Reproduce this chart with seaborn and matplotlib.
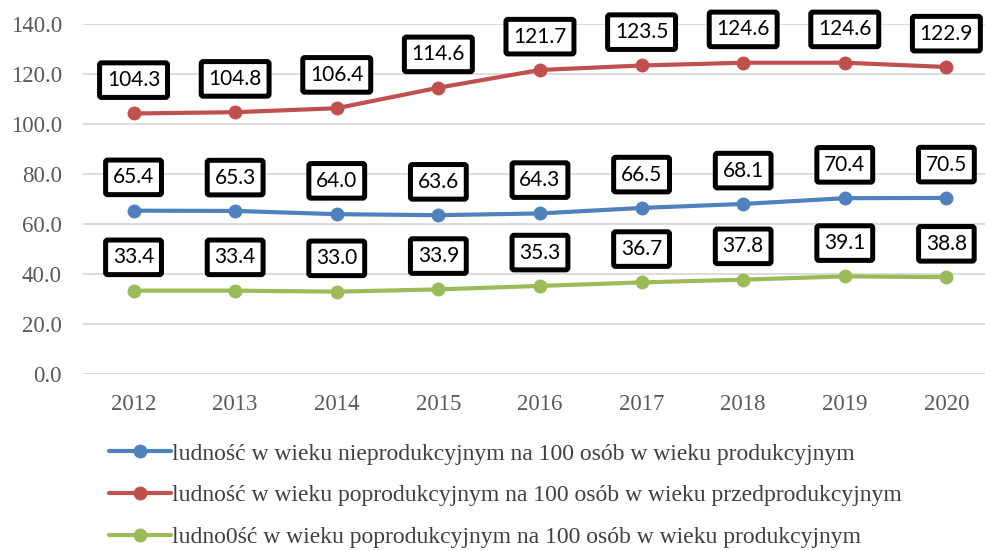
import matplotlib
matplotlib.use("Agg")
import matplotlib.pyplot as plt
import pandas as pd
import seaborn as sns

years = ["2012", "2013", "2014", "2015", "2016", "2017", "2018", "2019", "2020"]
nieprodukcyjny = [65.4, 65.3, 64.0, 63.6, 64.3, 66.5, 68.1, 70.4, 70.5]
poprodukcyjny_przed = [104.3, 104.8, 106.4, 114.6, 121.7, 123.5, 124.6, 124.6, 122.9]
poprodukcyjny_prod = [33.4, 33.4, 33.0, 33.9, 35.3, 36.7, 37.8, 39.1, 38.8]
series_names = [
    "ludność w wieku nieprodukcyjnym na 100 osób w wieku produkcyjnym",
    "ludność w wieku poprodukcyjnym na 100 osób w wieku przedprodukcyjnym",
    "ludno0ść w wieku poprodukcyjnym na 100 osób w wieku produkcyjnym",
]
colors = ["#4F81BD", "#C0504D", "#9BBB59"]

sns.set_theme(style="white")
plt.rcParams["font.family"] = ["Liberation Serif", "DejaVu Serif"]

df = pd.DataFrame({
    "rok": years * 3,
    "wartosc": nieprodukcyjny + poprodukcyjny_przed + poprodukcyjny_prod,
    "seria": [series_names[0]] * 9 + [series_names[1]] * 9 + [series_names[2]] * 9,
})

fig = plt.figure(figsize=(9.85, 5.51), dpi=100)
ax = fig.add_axes([0.084, 0.321, 0.916, 0.635])

sns.lineplot(data=df, x="rok", y="wartosc", hue="seria", palette=colors,
             marker="o", markersize=10, markeredgewidth=0, linewidth=3,
             sort=False, ax=ax)

# etykiety wartości w czarnych ramkach nad punktami
for vals in [nieprodukcyjny, poprodukcyjny_przed, poprodukcyjny_prod]:
    for i, v in enumerate(vals):
        ax.annotate(f"{v:.1f}", (i, v), xytext=(0, 24), textcoords="offset points",
                    ha="center", va="center", fontsize=15, family=["Lato", "DejaVu Sans"],
                    color="black",
                    bbox=dict(boxstyle="round,pad=0.35,rounding_size=0.1", fc="white",
                              ec="black", lw=3.6))

ax.set_ylim(0, 140)
ax.set_yticks(range(0, 141, 20))
ax.set_yticklabels([f"{t:.1f}" for t in range(0, 141, 20)])
ax.set_xlim(-0.5, 8.38)
ax.yaxis.grid(True, color="#D9D9D9", linewidth=1.3)
ax.set_axisbelow(True)
for s in ax.spines.values():
    s.set_visible(False)
ax.tick_params(axis="both", length=0, labelsize=16.5, labelcolor="#595959")
ax.tick_params(axis="y", pad=15)
ax.tick_params(axis="x", pad=14)
ax.set_xlabel("")
ax.set_ylabel("")

leg = ax.legend(loc="upper left", bbox_to_anchor=(0.019, -0.17), frameon=False,
                fontsize=17, handlelength=2.6, handletextpad=0.05, labelspacing=0.86,
                borderaxespad=0)
for t in leg.get_texts():
    t.set_color("#404040")

fig.savefig("out.png", dpi=100)
